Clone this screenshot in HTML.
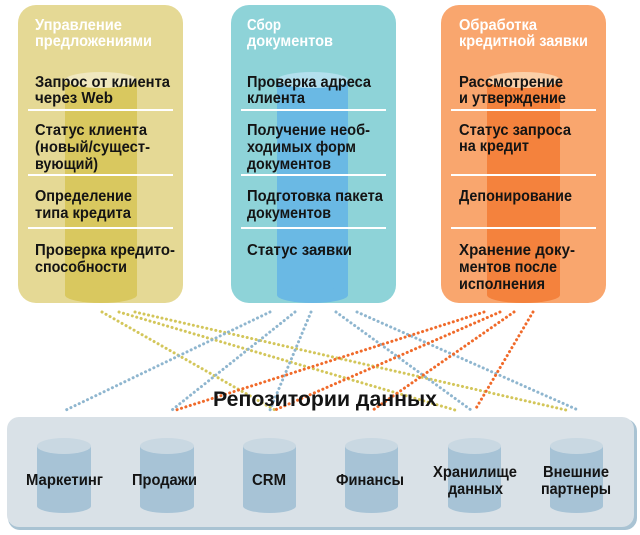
<!DOCTYPE html>
<html><head><meta charset="utf-8"><style>
html,body{margin:0;padding:0;background:#fff;}
svg{display:block;}
text{font-family:"Liberation Sans Narrow","Liberation Sans","DejaVu Sans Condensed",sans-serif;font-weight:bold;}
.t{fill:#fff;font-size:16px;}
.i{fill:#141414;font-size:16px;}
.b{fill:#141414;font-size:16px;}
</style></head><body>
<svg width="640" height="535" viewBox="0 0 640 535" xmlns="http://www.w3.org/2000/svg">
<rect x="18" y="5" width="165" height="298" rx="18" fill="#e5d995"/>
<rect x="231" y="5" width="165" height="298" rx="18" fill="#8ed3d8"/>
<rect x="441" y="5" width="165" height="298" rx="18" fill="#f9a66e"/>
<rect x="65" y="80" width="72" height="215" fill="#d9c85f"/>
<ellipse cx="101" cy="80" rx="36" ry="8" fill="#f0e8bf"/>
<ellipse cx="101" cy="295" rx="36" ry="8" fill="#d9c85f"/>
<rect x="277" y="80" width="71" height="215" fill="#6ab9e4"/>
<ellipse cx="312.5" cy="80" rx="35.5" ry="8" fill="#b3e0ee"/>
<ellipse cx="312.5" cy="295" rx="35.5" ry="8" fill="#6ab9e4"/>
<rect x="487" y="80" width="73" height="215" fill="#f4823d"/>
<ellipse cx="523.5" cy="80" rx="36.5" ry="8" fill="#fbd0a8"/>
<ellipse cx="523.5" cy="295" rx="36.5" ry="8" fill="#f4823d"/>
<g stroke="#fff" stroke-width="2">
<line x1="28" y1="110" x2="173" y2="110"/><line x1="28" y1="175" x2="173" y2="175"/><line x1="28" y1="228" x2="173" y2="228"/>
<line x1="241" y1="110" x2="386" y2="110"/><line x1="241" y1="175" x2="386" y2="175"/><line x1="241" y1="228" x2="386" y2="228"/>
<line x1="451" y1="110" x2="596" y2="110"/><line x1="451" y1="175" x2="596" y2="175"/><line x1="451" y1="228" x2="596" y2="228"/>
</g>
<text class="t" x="35" y="30" textLength="87" lengthAdjust="spacingAndGlyphs">Управление</text>
<text class="t" x="35" y="46" textLength="117" lengthAdjust="spacingAndGlyphs">предложениями</text>
<text class="i" x="35" y="87" textLength="135" lengthAdjust="spacingAndGlyphs">Запрос от клиента</text>
<text class="i" x="35" y="103" textLength="78" lengthAdjust="spacingAndGlyphs">через Web</text>
<text class="i" x="35" y="135" textLength="112" lengthAdjust="spacingAndGlyphs">Статус клиента</text>
<text class="i" x="35" y="152" textLength="115" lengthAdjust="spacingAndGlyphs">(новый/сущест-</text>
<text class="i" x="35" y="169" textLength="63" lengthAdjust="spacingAndGlyphs">вующий)</text>
<text class="i" x="35" y="201" textLength="97" lengthAdjust="spacingAndGlyphs">Определение</text>
<text class="i" x="35" y="218" textLength="96" lengthAdjust="spacingAndGlyphs">типа кредита</text>
<text class="i" x="35" y="255" textLength="140" lengthAdjust="spacingAndGlyphs">Проверка кредито-</text>
<text class="i" x="35" y="272" textLength="92" lengthAdjust="spacingAndGlyphs">способности</text>
<text class="t" x="247" y="30" textLength="34" lengthAdjust="spacingAndGlyphs">Сбор</text>
<text class="t" x="247" y="46" textLength="86" lengthAdjust="spacingAndGlyphs">документов</text>
<text class="i" x="247" y="87" textLength="124" lengthAdjust="spacingAndGlyphs">Проверка адреса</text>
<text class="i" x="247" y="103" textLength="58" lengthAdjust="spacingAndGlyphs">клиента</text>
<text class="i" x="247" y="135" textLength="123" lengthAdjust="spacingAndGlyphs">Получение необ-</text>
<text class="i" x="247" y="152" textLength="109" lengthAdjust="spacingAndGlyphs">ходимых форм</text>
<text class="i" x="247" y="169" textLength="84" lengthAdjust="spacingAndGlyphs">документов</text>
<text class="i" x="247" y="201" textLength="136" lengthAdjust="spacingAndGlyphs">Подготовка пакета</text>
<text class="i" x="247" y="218" textLength="84" lengthAdjust="spacingAndGlyphs">документов</text>
<text class="i" x="247" y="255" textLength="105" lengthAdjust="spacingAndGlyphs">Статус заявки</text>
<text class="t" x="459" y="30" textLength="78" lengthAdjust="spacingAndGlyphs">Обработка</text>
<text class="t" x="459" y="46" textLength="129" lengthAdjust="spacingAndGlyphs">кредитной заявки</text>
<text class="i" x="459" y="87" textLength="104" lengthAdjust="spacingAndGlyphs">Рассмотрение</text>
<text class="i" x="459" y="103" textLength="107" lengthAdjust="spacingAndGlyphs">и утверждение</text>
<text class="i" x="459" y="135" textLength="112" lengthAdjust="spacingAndGlyphs">Статус запроса</text>
<text class="i" x="459" y="151" textLength="70" lengthAdjust="spacingAndGlyphs">на кредит</text>
<text class="i" x="459" y="201" textLength="113" lengthAdjust="spacingAndGlyphs">Депонирование</text>
<text class="i" x="459" y="255" textLength="116" lengthAdjust="spacingAndGlyphs">Хранение доку-</text>
<text class="i" x="459" y="272" textLength="98" lengthAdjust="spacingAndGlyphs">ментов после</text>
<text class="i" x="459" y="289" textLength="86" lengthAdjust="spacingAndGlyphs">исполнения</text>
<g stroke-width="3" stroke-dasharray="0.1 4.5" stroke-linecap="round" fill="none">
<g stroke="#d3c65a">
<line x1="102" y1="312" x2="275" y2="410"/>
<line x1="119" y1="312" x2="455" y2="410"/>
<line x1="135" y1="312" x2="566" y2="410"/>
</g>
<g stroke="#8fb6cf">
<line x1="270" y1="312" x2="66" y2="410"/>
<line x1="295" y1="312" x2="172" y2="410"/>
<line x1="311" y1="312" x2="270" y2="410"/>
<line x1="336" y1="312" x2="471" y2="410"/>
<line x1="357" y1="312" x2="578" y2="410"/>
</g>
<g stroke="#f06a2a">
<line x1="484" y1="312" x2="176" y2="410"/>
<line x1="500" y1="312" x2="275" y2="410"/>
<line x1="514" y1="312" x2="373" y2="410"/>
<line x1="533" y1="312" x2="475" y2="410"/>
</g>
</g>
<text x="213" y="406" font-size="21" fill="#141414" textLength="224" lengthAdjust="spacingAndGlyphs">Репозитории данных</text>
<rect x="8" y="419" width="629" height="111" rx="12" fill="#a9c3d3"/>
<rect x="7" y="417" width="627" height="110" rx="12" fill="#d9e1e7"/>
<g fill="#a7c3d6">
<rect x="37" y="446" width="54" height="60"/><ellipse cx="64" cy="506" rx="27" ry="7"/>
<rect x="140" y="446" width="54" height="60"/><ellipse cx="167" cy="506" rx="27" ry="7"/>
<rect x="243" y="446" width="53" height="60"/><ellipse cx="269.5" cy="506" rx="26.5" ry="7"/>
<rect x="345" y="446" width="53" height="60"/><ellipse cx="371.5" cy="506" rx="26.5" ry="7"/>
<rect x="448" y="446" width="53" height="60"/><ellipse cx="474.5" cy="506" rx="26.5" ry="7"/>
<rect x="550" y="446" width="53" height="60"/><ellipse cx="576.5" cy="506" rx="26.5" ry="7"/>
</g>
<g fill="#c9d8e2">
<ellipse cx="64" cy="446" rx="27" ry="8"/>
<ellipse cx="167" cy="446" rx="27" ry="8"/>
<ellipse cx="269.5" cy="446" rx="26.5" ry="8"/>
<ellipse cx="371.5" cy="446" rx="26.5" ry="8"/>
<ellipse cx="474.5" cy="446" rx="26.5" ry="8"/>
<ellipse cx="576.5" cy="446" rx="26.5" ry="8"/>
</g>
<text class="b" x="26" y="485" textLength="77" lengthAdjust="spacingAndGlyphs">Маркетинг</text>
<text class="b" x="132" y="485" textLength="65" lengthAdjust="spacingAndGlyphs">Продажи</text>
<text class="b" x="252" y="485" textLength="34" lengthAdjust="spacingAndGlyphs">CRM</text>
<text class="b" x="336" y="485" textLength="68" lengthAdjust="spacingAndGlyphs">Финансы</text>
<text class="b" x="433" y="477" textLength="84" lengthAdjust="spacingAndGlyphs">Хранилище</text>
<text class="b" x="448" y="494" textLength="55" lengthAdjust="spacingAndGlyphs">данных</text>
<text class="b" x="543" y="477" textLength="66" lengthAdjust="spacingAndGlyphs">Внешние</text>
<text class="b" x="541" y="494" textLength="70" lengthAdjust="spacingAndGlyphs">партнеры</text>
</svg>
</body></html>
